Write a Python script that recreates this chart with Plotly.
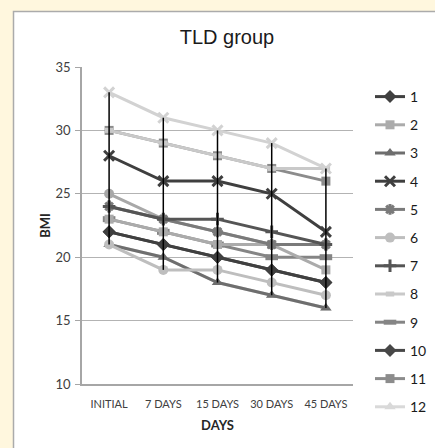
import plotly.graph_objects as go

categories = ["INITIAL", "7 DAYS", "15 DAYS", "30 DAYS", "45 DAYS"]

s1 = [22, 21, 20, 19, 18]
s2 = [23, 22, 21, 21, 19]
s3 = [21, 20, 18, 17, 16]
s4 = [28, 26, 26, 25, 22]
s5 = [24, 23, 22, 21, 21]
s6 = [21, 19, 19, 18, 17]
s7 = [24, 23, 23, 22, 21]
s8 = [30, 29, 28, 27, 27]
s9 = [23, 22, 21, 20, 20]
s10 = [22, 21, 20, 19, 18]
s11 = [30, 29, 28, 27, 26]
s12 = [21, 20, 18, 17, 16]
s13 = [33, 31, 30, 29, 27]
s15 = [25, 23, 22, 21, 21]

# (name, values, color, symbol, size, marker line width, in legend, rank)
series = [
    ("11", s11, "#8C8C8C", "square", 9, 0, True, 11),
    ("8", s8, "#C9C9C9", "line-ew-open", 6, 5, True, 8),
    ("12", s12, "#D9D9D9", "triangle-up", 10, 0, True, 12),
    ("3", s3, "#6E6E6E", "triangle-up", 10, 0, True, 3),
    ("9", s9, "#858585", "line-ew-open", 9, 6, True, 9),
    ("2", s2, "#ABABAB", "square", 9, 0, True, 2),
    ("10", s10, "#474747", "diamond", 10, 0, True, 10),
    ("1", s1, "#404040", "diamond", 10, 0, True, 1),
    ("6", s6, "#BEBEBE", "circle", 10, 0, True, 6),
    ("15", s15, "#A8A8A8", "circle", 10, 0, False, 15),
    ("5", s5, "#7A7A7A", "asterisk-open", 9, 3, True, 5),
    ("7", s7, "#555555", "cross-thin-open", 9, 3, True, 7),
    ("4", s4, "#3F3F3F", "x-thin-open", 10, 3, True, 4),
    ("13", s13, "#D2D2D2", "x-thin-open", 10, 3, False, 13),
]

fig = go.Figure()
for name, vals, col, sym, sz, mlw, show, rank in series:
    fig.add_trace(go.Scatter(
        x=categories, y=vals, name=name, mode="lines+markers",
        line=dict(color=col, width=3),
        marker=dict(symbol=sym, size=sz, color=col, line=dict(color=col, width=mlw)),
        showlegend=show, legendrank=rank, legendgroup=name,
    ))

# high-low lines computed from the data
all_vals = [s[1] for s in series]
hx, hy = [], []
for i, c in enumerate(categories):
    col_vals = [v[i] for v in all_vals]
    hx += [c, c, None]
    hy += [max(col_vals), min(col_vals), None]
fig.add_trace(go.Scatter(x=hx, y=hy, mode="lines", line=dict(color="#000000", width=1.5),
                         showlegend=False, hoverinfo="skip"))

L, T, B = 82, 67, 64
W, H = 470, 448
R = W - 353
pw, ph = W - L - R, H - T - B

def px_x(p):
    return (p - L) / pw

def px_y(p):
    return (H - B - p) / ph

fig.add_shape(type="rect", xref="paper", yref="paper",
              x0=px_x(13.5), x1=px_x(480), y0=px_y(11.5), y1=px_y(455),
              fillcolor="white", line=dict(color="#ABABAB", width=1.5), layer="below")

fig.update_layout(
    width=W, height=H,
    margin=dict(l=L, r=R, t=T, b=B, autoexpand=False),
    paper_bgcolor="#FFF7DE", plot_bgcolor="white",
    title=dict(text="TLD group", x=227 / W, xanchor="center", xref="container",
               y=1 - 37 / H, yanchor="middle",
               font=dict(family="Liberation Sans, Arial", size=20, color="#1A1A1A")),
    font=dict(family="Lato, Liberation Sans", color="#404040"),
    xaxis=dict(type="category", categoryorder="array", categoryarray=categories,
               range=[-0.5, 4.5], showline=True, linecolor="#A6A6A6", linewidth=1.5,
               showgrid=False, ticks="", tickfont=dict(size=11, color="#404040"),
               ticklabelstandoff=9,
               title=dict(text="<b>DAYS</b>", font=dict(size=13, color="#262626"), standoff=12)),
    yaxis=dict(range=[10, 35], dtick=5, showline=True, linecolor="#A6A6A6", linewidth=1.5,
               showgrid=True, gridcolor="#B3B3B3", gridwidth=1.2, zeroline=False,
               ticks="outside", ticklen=5, tickcolor="#A6A6A6", tickwidth=1.2,
               tickfont=dict(size=13, color="#404040"), ticklabelstandoff=2,
               title=dict(text="<b>BMI</b>", font=dict(size=13, color="#262626"), standoff=2)),
    legend=dict(x=px_x(370), xanchor="left", y=px_y(81), yanchor="top",
                font=dict(family="Lato, Liberation Sans", size=14, color="#1A1A1A"),
                traceorder="grouped", tracegroupgap=7, bgcolor="rgba(0,0,0,0)",
                itemwidth=30, maxheight=440),
    showlegend=True,
)

fig.write_html("out.html", config={"displayModeBar": False},
               post_script="document.body.style.margin='0';document.body.style.overflow='hidden';"
                           "document.documentElement.style.overflow='hidden';"
                           "document.body.style.background='#FFF7DE';")
